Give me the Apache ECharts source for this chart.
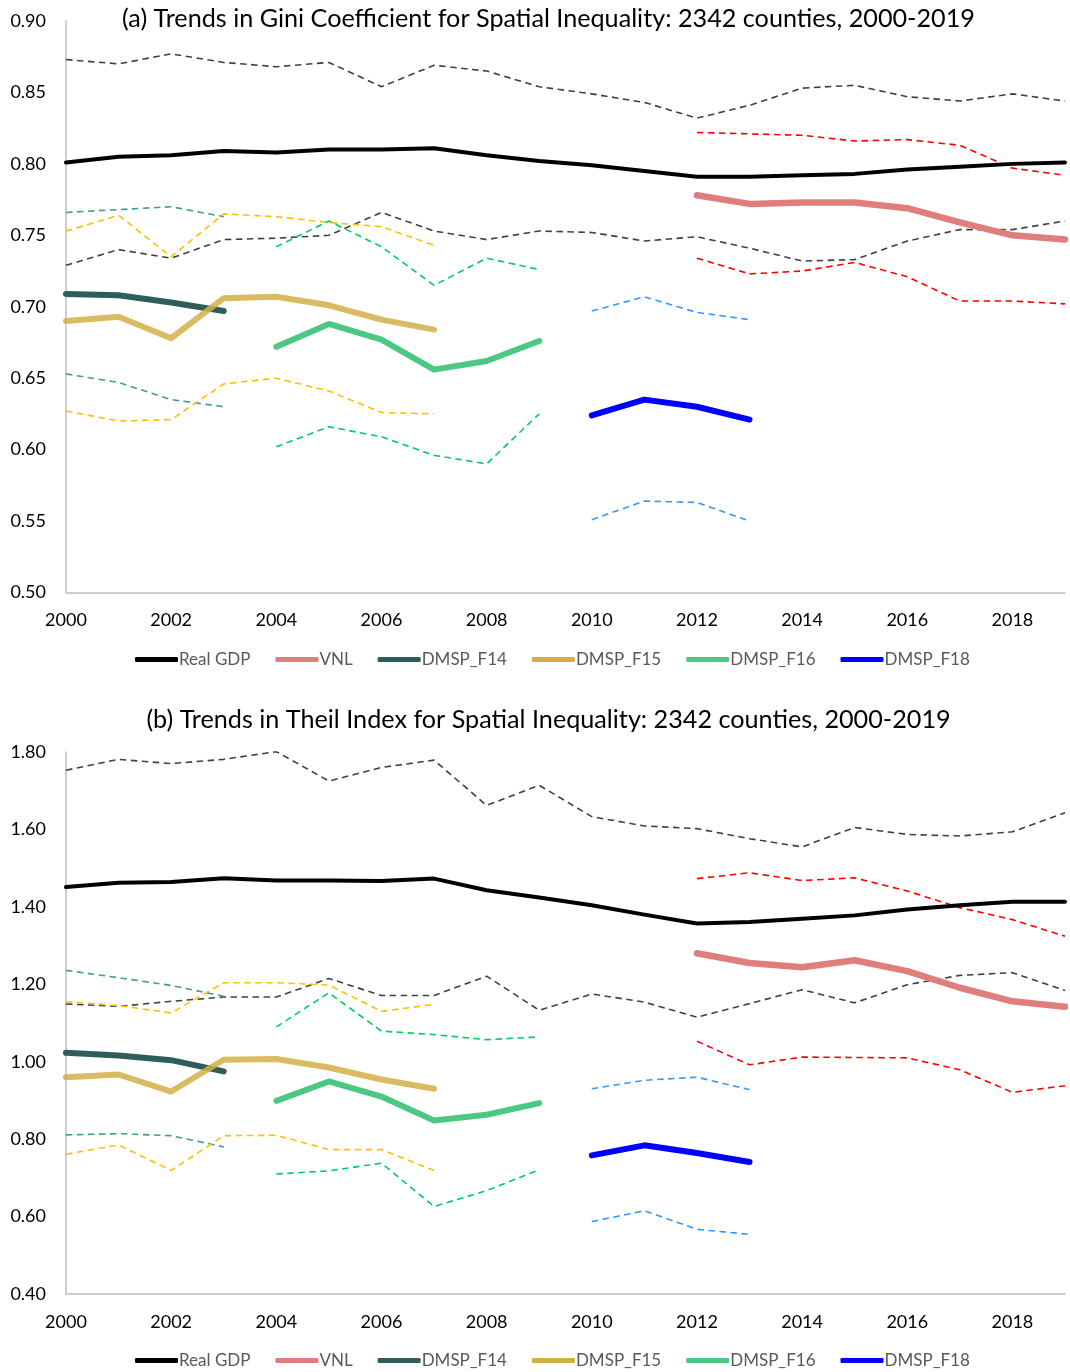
<!DOCTYPE html>
<html><head><meta charset="utf-8">
<script src="https://cdn.jsdelivr.net/npm/echarts@6/dist/echarts.min.js"></script>
<style>html,body{margin:0;padding:0;background:#fff}#c{width:1070px;height:1372px}</style>
</head><body><div id="c"></div>
<script>
const years = ['2000','2001','2002','2003','2004','2005','2006','2007','2008','2009','2010','2011','2012','2013','2014','2015','2016','2017','2018','2019'];
const legendNames = ['Real GDP','VNL','DMSP_F14','DMSP_F15','DMSP_F16','DMSP_F18'];
const titleA = '(a) Trends in Gini Coefficient for Spatial Inequality: 2342 counties, 2000-2019';
const titleB = '(b) Trends in Theil Index for Spatial Inequality: 2342 counties, 2000-2019';

// ---- (a) Gini coefficient ----
const giniGDP   = [0.801,0.805,0.806,0.809,0.808,0.810,0.810,0.811,0.806,0.802,0.799,0.795,0.791,0.791,0.792,0.793,0.796,0.798,0.800,0.801];
const giniGDPHi = [0.873,0.870,0.877,0.871,0.868,0.871,0.854,0.869,0.865,0.854,0.849,0.843,0.832,0.841,0.853,0.855,0.847,0.844,0.849,0.844];
const giniGDPLo = [0.729,0.740,0.734,0.747,0.748,0.750,0.766,0.753,0.747,0.753,0.752,0.746,0.749,0.741,0.732,0.733,0.746,0.754,0.754,0.760];
const giniVNL   = [0.778,0.772,0.773,0.773,0.769,0.759,0.750,0.747];   // 2012-2019
const giniVNLHi = [0.822,0.821,0.820,0.816,0.817,0.813,0.797,0.792];
const giniVNLLo = [0.734,0.723,0.725,0.731,0.721,0.704,0.704,0.702];
const giniF14   = [0.709,0.708,0.703,0.697];                           // 2000-2003
const giniF14Hi = [0.766,0.768,0.770,0.763];
const giniF14Lo = [0.653,0.647,0.635,0.630];
const giniF15   = [0.690,0.693,0.678,0.706,0.707,0.701,0.691,0.684];   // 2000-2007
const giniF15Hi = [0.753,0.764,0.735,0.765,0.763,0.759,0.756,0.743];
const giniF15Lo = [0.627,0.620,0.621,0.646,0.650,0.641,0.626,0.625];
const giniF16   = [0.672,0.688,0.677,0.656,0.662,0.676];               // 2004-2009
const giniF16Hi = [0.742,0.760,0.742,0.715,0.734,0.726];
const giniF16Lo = [0.602,0.616,0.609,0.596,0.590,0.625];
const giniF18   = [0.624,0.635,0.630,0.621];                           // 2010-2013
const giniF18Hi = [0.697,0.707,0.696,0.691];
const giniF18Lo = [0.551,0.564,0.563,0.550];

// ---- (b) Theil index ----
const theilGDP   = [1.451,1.462,1.464,1.474,1.468,1.468,1.467,1.473,1.443,1.424,1.404,1.380,1.357,1.361,1.369,1.378,1.393,1.404,1.413,1.413];
const theilGDPHi = [1.753,1.781,1.770,1.781,1.801,1.725,1.760,1.779,1.662,1.714,1.633,1.609,1.602,1.576,1.555,1.605,1.587,1.583,1.594,1.643];
const theilGDPLo = [1.149,1.143,1.156,1.167,1.167,1.215,1.171,1.171,1.221,1.133,1.175,1.154,1.115,1.150,1.186,1.152,1.199,1.223,1.230,1.184];
const theilVNL   = [1.280,1.255,1.244,1.262,1.234,1.191,1.156,1.142];
const theilVNLHi = [1.473,1.488,1.468,1.475,1.441,1.398,1.367,1.324];
const theilVNLLo = [1.053,0.992,1.012,1.011,1.010,0.979,0.921,0.938];
const theilF14   = [1.023,1.016,1.004,0.975];
const theilF14Hi = [1.236,1.217,1.197,1.169];
const theilF14Lo = [0.811,0.814,0.809,0.780];
const theilF15   = [0.960,0.967,0.923,1.005,1.007,0.985,0.954,0.930];
const theilF15Hi = [1.155,1.145,1.126,1.204,1.204,1.198,1.130,1.148];
const theilF15Lo = [0.761,0.785,0.719,0.809,0.810,0.773,0.773,0.719];
const theilF16   = [0.899,0.949,0.910,0.848,0.863,0.893];
const theilF16Hi = [1.090,1.178,1.079,1.070,1.057,1.064];
const theilF16Lo = [0.710,0.718,0.738,0.626,0.667,0.721];
const theilF18   = [0.758,0.784,0.764,0.741];
const theilF18Hi = [0.930,0.952,0.960,0.928];
const theilF18Lo = [0.587,0.615,0.567,0.554];

// first year of each series
const startYear = {gdp:'2000', vnl:'2012', f14:'2000', f15:'2000', f16:'2004', f18:'2010'};

function place(start, vals){
  const out = years.map(() => null);
  const s = years.indexOf(start);
  vals.forEach((v, i) => { out[s + i] = v; });
  return out;
}

const FONT = 'Lato';
const styles = {
  gdp: {name:'Real GDP', color:'#000000', width:4,  band:'#404040'},
  vnl: {name:'VNL',      color:'#E07E7E', width:6.5, band:'#FF0000'},
  f14: {name:'DMSP_F14', color:'#2E5E5A', width:6,  band:'#3E9D9A'},
  f15: {name:'DMSP_F15', color:'#D4AF48', width:6,  band:'#FFC000', opacity:0.85},
  f16: {name:'DMSP_F16', color:'#4CC884', width:6,  band:'#00CC5F'},
  f18: {name:'DMSP_F18', color:'#0000FF', width:6,  band:'#3399FF'}
};

const panelData = [
  {gdp:[giniGDP,giniGDPHi,giniGDPLo], vnl:[giniVNL,giniVNLHi,giniVNLLo], f14:[giniF14,giniF14Hi,giniF14Lo],
   f15:[giniF15,giniF15Hi,giniF15Lo], f16:[giniF16,giniF16Hi,giniF16Lo], f18:[giniF18,giniF18Hi,giniF18Lo]},
  {gdp:[theilGDP,theilGDPHi,theilGDPLo], vnl:[theilVNL,theilVNLHi,theilVNLLo], f14:[theilF14,theilF14Hi,theilF14Lo],
   f15:[theilF15,theilF15Hi,theilF15Lo], f16:[theilF16,theilF16Hi,theilF16Lo], f18:[theilF18,theilF18Hi,theilF18Lo]}
];

const series = [];
const keys = ['gdp','vnl','f14','f15','f16','f18'];
panelData.forEach((pd, g) => {
  keys.forEach(k => {
    const st = styles[k];
    ['upper','lower'].forEach((b, bi) => {
      series.push({
        type:'line', name: st.name + ' ' + b + ' ' + (g ? 'b' : 'a'),
        xAxisIndex:g, yAxisIndex:g, data: place(startYear[k], pd[k][bi + 1]),
        showSymbol:false, silent:true, z:2,
        lineStyle:{color:st.band, width:1.6, type:[6.5,4.5]}, itemStyle:{color:st.band}
      });
    });
  });
  keys.forEach(k => {
    const st = styles[k];
    series.push({
      type:'line', name: st.name, xAxisIndex:g, yAxisIndex:g, data: place(startYear[k], pd[k][0]),
      showSymbol:false, z:3,
      lineStyle:{color:st.color, width:st.width, cap:'round', join:'round', opacity: st.opacity || 1},
      itemStyle:{color:st.color}
    });
  });
});

const grids = [{left:66, right:5, top:21, height:571.5}, {left:66, right:5, top:752, height:542}];
const yCfg = [{min:0.5, max:0.9, interval:0.05}, {min:0.4, max:1.8, interval:0.2}];

const chart = echarts.init(document.getElementById('c'), null, {renderer:'canvas'});
chart.setOption({
  backgroundColor:'#ffffff',
  animation:false,
  textStyle:{fontFamily:FONT},
  title:[
    {text:titleA, left:548.5, top:6, textAlign:'center', padding:0, textStyle:{fontFamily:FONT, fontSize:25.2, fontWeight:'normal', color:'#000'}},
    {text:titleB, left:548.5, top:707, textAlign:'center', padding:0, textStyle:{fontFamily:FONT, fontSize:25.2, fontWeight:'normal', color:'#000'}}
  ],
  legend:[0,1].map(i => ({
    data: legendNames, left:135, top: i ? 1352 : 651, padding:0, itemGap:25,
    itemWidth:43, itemHeight:5, icon:'roundRect',
    textStyle:{fontFamily:FONT, fontSize:17, color:'#595959', padding:[0,0,0,-4]}
  })),
  grid: grids.map(g => Object.assign({outerBoundsMode:'none'}, g)),
  xAxis:[0,1].map(i => ({
    type:'category', gridIndex:i, data:years, boundaryGap:false,
    axisLine:{lineStyle:{color:'#BFBFBF', width:1.5}}, axisTick:{show:false},
    axisLabel:{interval:1, margin:19, fontFamily:FONT, fontSize:18, color:'#000'},
    splitLine:{show:false}
  })),
  yAxis:[0,1].map(i => ({
    type:'value', gridIndex:i, min:yCfg[i].min, max:yCfg[i].max, interval:yCfg[i].interval,
    axisLine:{show:true, lineStyle:{color:'#BFBFBF', width:1.5}}, axisTick:{show:false},
    axisLabel:{margin:20, fontFamily:FONT, fontSize:18, color:'#000', formatter:v => v.toFixed(2)},
    splitLine:{show:false}
  })),
  series: series
});
</script>
</body></html>
